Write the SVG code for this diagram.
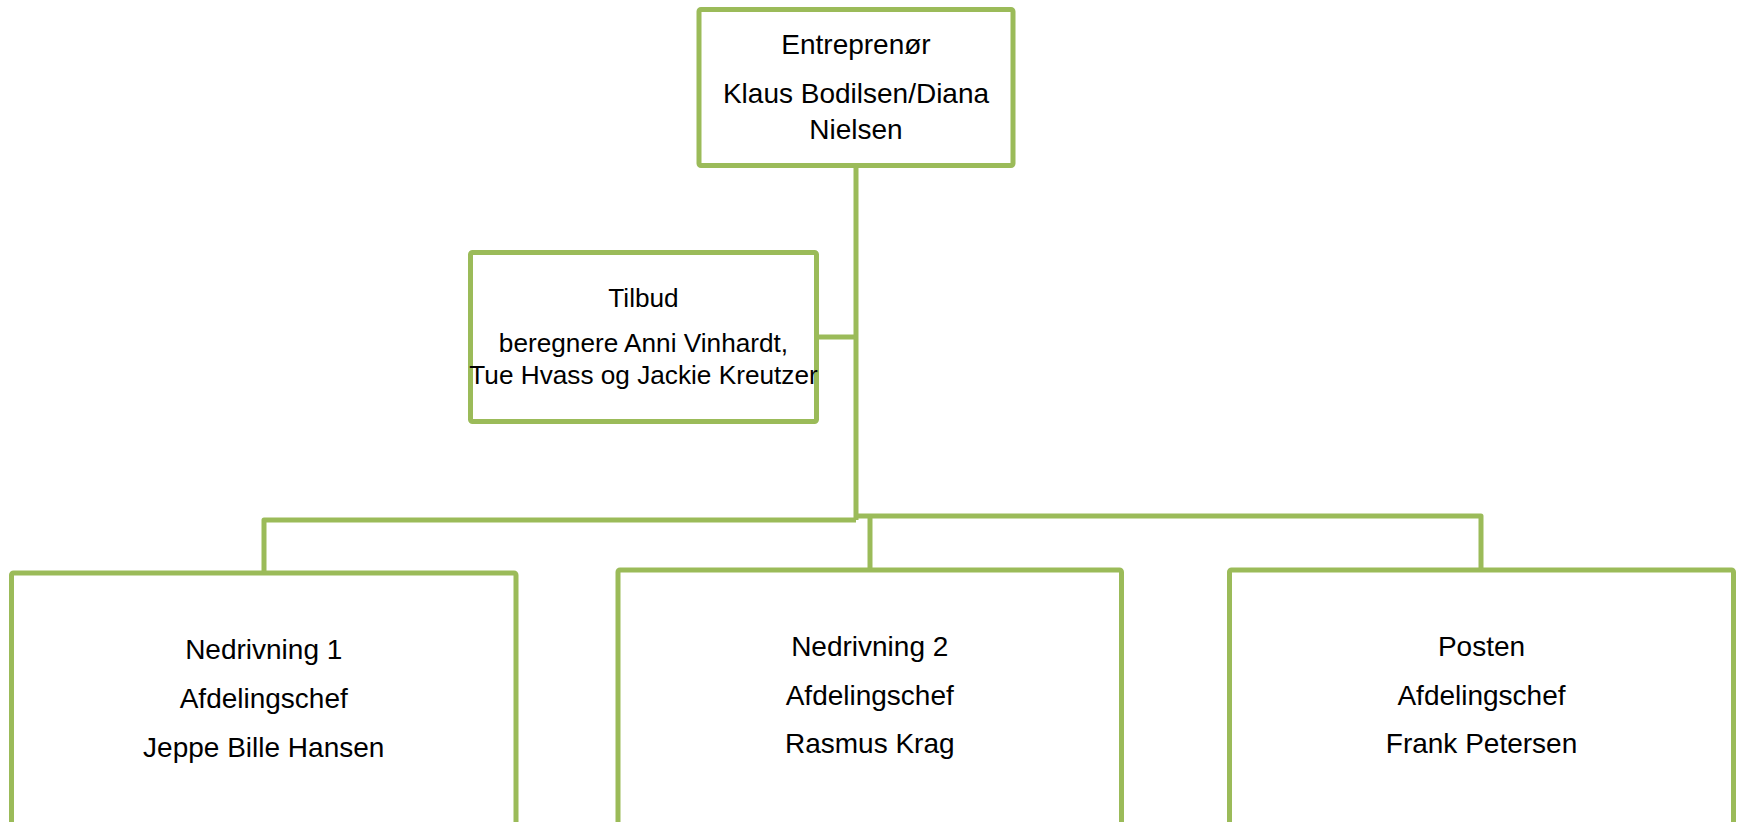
<svg xmlns="http://www.w3.org/2000/svg" width="1737" height="822" viewBox="0 0 1737 822">
<style>
.box{fill:#ffffff;stroke:#9BBB59;stroke-width:5;stroke-linejoin:round}
.conn{fill:none;stroke:#9BBB59;stroke-width:5;stroke-linejoin:round}
text{font-family:"Liberation Sans",Arial,sans-serif;font-size:28px;fill:#000000;text-anchor:middle}
.small{font-size:26.2px}
</style>
<rect width="1737" height="822" fill="#ffffff"/>
<g id="connectors">
<path class="conn" d="M856,167 V520"/>
<path class="conn" d="M818.5,337 H856"/>
<path class="conn" d="M856,520 H264 V573"/>
<path class="conn" d="M856,516 H1481 V570"/>
<path class="conn" d="M870,516 V570"/>
</g>
<g id="entreprenor">
<rect class="box" x="699" y="9.5" width="314" height="156" rx="2"/>
<text x="856" y="54">Entreprenør</text>
<text x="856" y="102.5">Klaus Bodilsen/Diana</text>
<text x="856" y="138.5">Nielsen</text>
</g>
<g id="tilbud">
<rect class="box" x="470.5" y="252.5" width="346" height="169" rx="2"/>
<text x="643.5" y="306.5" class="small">Tilbud</text>
<text x="643.5" y="351.5" class="small">beregnere Anni Vinhardt,</text>
<text x="643.5" y="384" class="small">Tue Hvass og Jackie Kreutzer</text>
</g>
<g id="nedrivning1">
<rect class="box" x="11.5" y="573" width="504.5" height="260" rx="2"/>
<text x="263.75" y="659">Nedrivning 1</text>
<text x="263.75" y="708">Afdelingschef</text>
<text x="263.75" y="757">Jeppe Bille Hansen</text>
</g>
<g id="nedrivning2">
<rect class="box" x="618" y="570" width="503.5" height="263" rx="2"/>
<text x="869.75" y="656">Nedrivning 2</text>
<text x="869.75" y="704.5">Afdelingschef</text>
<text x="869.75" y="753">Rasmus Krag</text>
</g>
<g id="posten">
<rect class="box" x="1229.5" y="570" width="504" height="263" rx="2"/>
<text x="1481.5" y="656">Posten</text>
<text x="1481.5" y="704.5">Afdelingschef</text>
<text x="1481.5" y="752.5">Frank Petersen</text>
</g>
</svg>
